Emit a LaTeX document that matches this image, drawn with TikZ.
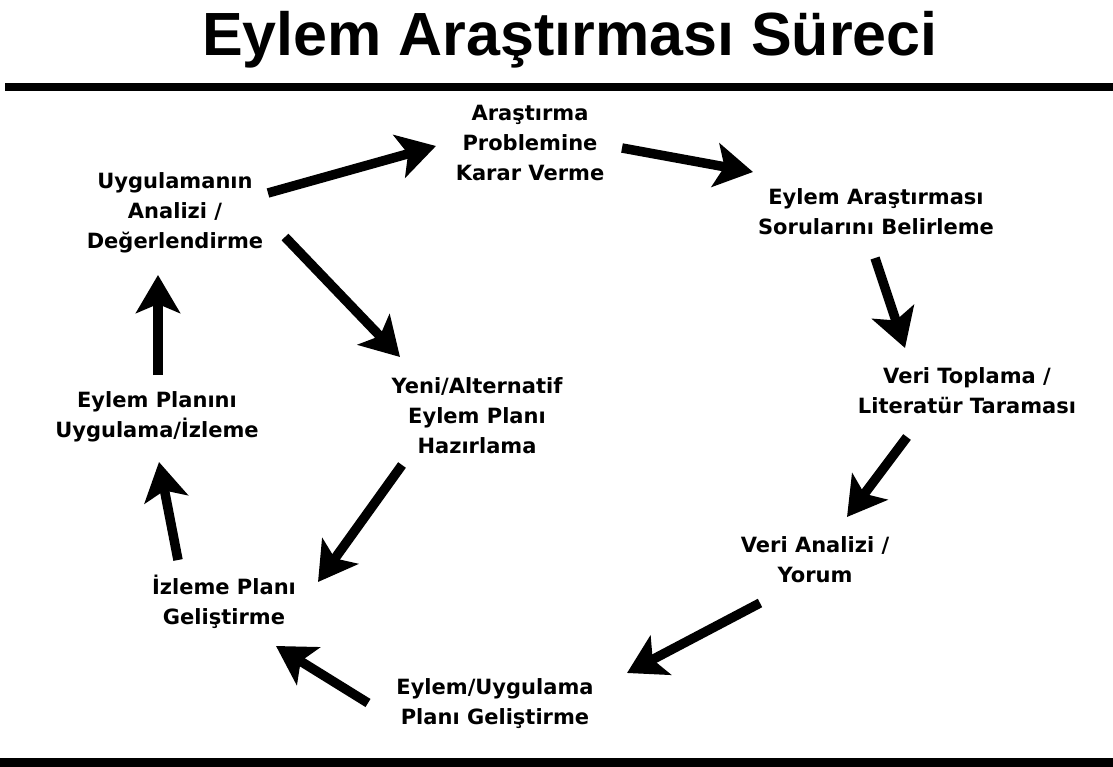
\documentclass[tikz,border=0pt]{standalone}
\usepackage{fontspec}
\setmainfont{DejaVu Sans}
\newfontfamily\titlefont{Liberation Sans}
\usetikzlibrary{arrows.meta}

\begin{document}
\begin{tikzpicture}[x=1pt,y=-1pt]
\useasboundingbox (0,0) rectangle (1113,767);
\node[anchor=base] (title) at (570,56) {\titlefont\fontsize{61}{72}\selectfont\bfseries Eylem Araştırması Süreci};
\fill (5,83) rectangle (1113,91);
\fill (0,758) rectangle (1113,767);
\tikzstyle{stage}=[align=center, font=\fontsize{21}{30}\selectfont\bfseries, inner sep=2pt]
\tikzstyle{flow}=[line width=9.5pt, -{Stealth[length=38pt,width=44pt,inset=9pt]}]
\node[stage] (karar) at (530,143) {Araştırma\\Problemine\\Karar Verme};
\node[stage] (sorular) at (876,212) {Eylem Araştırması\\Sorularını Belirleme};
\node[stage] (toplama) at (967,391) {Veri Toplama /\\Literatür Taraması};
\node[stage] (yorum) at (815,560) {Veri Analizi /\\Yorum};
\node[stage] (gelistirme) at (495,704) {Eylem/Uygulama\\Planı Geliştirme};
\node[stage] (izleme) at (224,602) {İzleme Planı\\Geliştirme};
\node[stage] (uygulama) at (157,417) {Eylem Planını\\Uygulama/İzleme};
\node[stage] (analiz) at (175,213) {Uygulamanın\\Analizi /\\Değerlendirme};
\node[stage] (yeni) at (477,416) {Yeni/Alternatif\\Eylem Planı\\Hazırlama};
\draw[flow] ([shift={(93,-20)}]analiz.center) -- ([shift={(-94,3)}]karar.center);
\draw[flow] ([shift={(92,5)}]karar.center) -- ([shift={(-123,-40)}]sorular.center);
\draw[flow] ([shift={(-1,46)}]sorular.center) -- ([shift={(-62,-43)}]toplama.center);
\draw[flow] ([shift={(-60,46)}]toplama.center) -- ([shift={(32,-43)}]yorum.center);
\draw[flow] ([shift={(-55,43)}]yorum.center) -- ([shift={(132,-31)}]gelistirme.center);
\draw[flow] ([shift={(-127,-1)}]gelistirme.center) -- ([shift={(52,44)}]izleme.center);
\draw[flow] ([shift={(-46,-42)}]izleme.center) -- ([shift={(2,45)}]uygulama.center);
\draw[flow] ([shift={(1,-42)}]uygulama.center) -- ([shift={(-17,62)}]analiz.center);
\draw[flow] ([shift={(110,24)}]analiz.center) -- ([shift={(-77,-59)}]yeni.center);
\draw[flow] ([shift={(-75,49)}]yeni.center) -- ([shift={(94,-20)}]izleme.center);
\end{tikzpicture}
\end{document}
